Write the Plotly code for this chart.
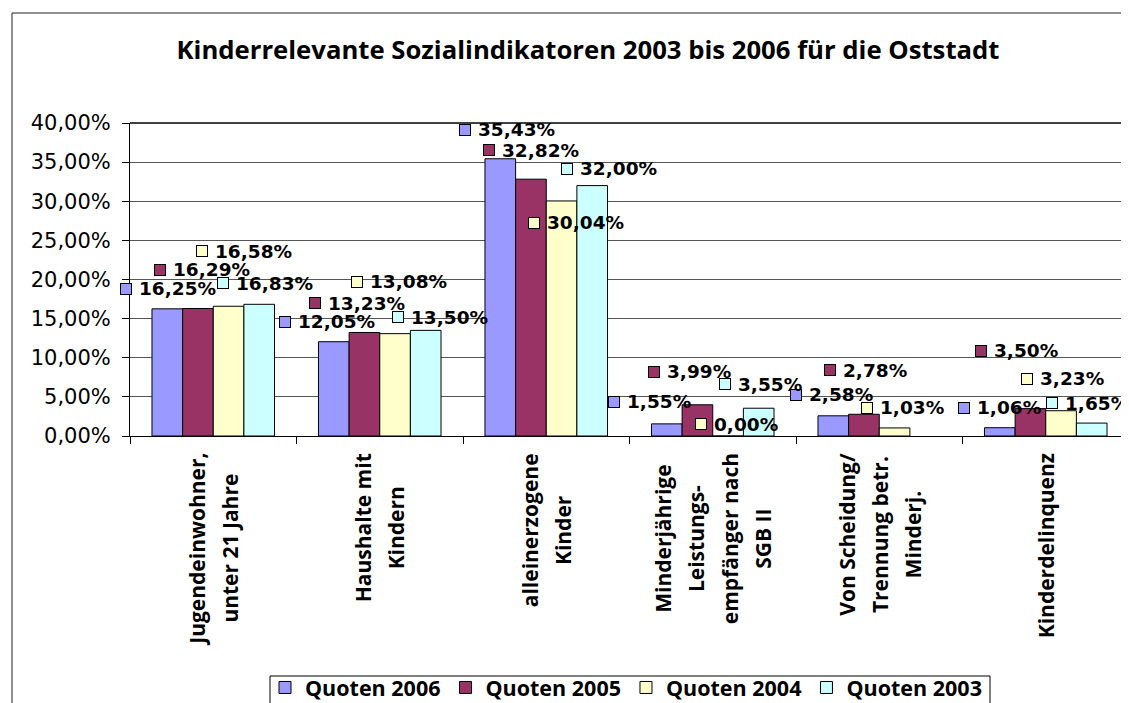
import plotly.graph_objects as go

# ---------------- data ----------------
categories = [
    "Jugendeinwohner,\nunter 21 Jahre",
    "Haushalte mit\nKindern",
    "alleinerzogene\nKinder",
    "Minderjährige\nLeistungs-\nempfänger nach\nSGB II",
    "Von Scheidung/\nTrennung betr.\nMinderj.",
    "Kinderdelinquenz",
]
series_names = ["Quoten 2006", "Quoten 2005", "Quoten 2004", "Quoten 2003"]
quoten_2006 = [16.25, 12.05, 35.43, 1.55, 2.58, 1.06]
quoten_2005 = [16.29, 13.23, 32.82, 3.99, 2.78, 3.50]
quoten_2004 = [16.58, 13.08, 30.04, 0.00, 1.03, 3.23]
quoten_2003 = [16.83, 13.50, 32.00, 3.55, None, 1.65]
series_values = [quoten_2006, quoten_2005, quoten_2004, quoten_2003]
y_ticks = [0, 5, 10, 15, 20, 25, 30, 35, 40]
y_tick_labels = ["0,00%", "5,00%", "10,00%", "15,00%", "20,00%", "25,00%", "30,00%", "35,00%", "40,00%"]
title_text = "Kinderrelevante Sozialindikatoren 2003 bis 2006 für die Oststadt"

# ---------------- styles ----------------
colors = ["#9999FF", "#993366", "#FFFFCC", "#CCFFFF"]
# pixel offsets of each data label (key square centre) relative to its bar top/centre
label_offsets = [
    [(-41, 20), (-49, 20), (-35, 29), (-53, 22), (-37, 21), (-36, 20)],
    [(-38, 39), (-49, 29), (-42, 29), (-43, 33), (-34, 44), (-49, 58)],
    [(-27, 55), (-38, 52), (-28, -22), (-27, 12), (-28, 20), (-34, 32)],
    [(-36, 21), (-28, 13), (-25, 17), (-34, 24), None, (-40, 20)],
]

PAGE = 8  # default body margin of the html page
W, H = 1129 - PAGE, 703 - PAGE
ML, MR, MT = 130 - PAGE, 0, 123 - PAGE
plot_w = W - ML - MR
plot_h = 313
MB = H - MT - plot_h
bargap = 0.264
cat_px = plot_w / len(categories)
bar_px = (1 - bargap) * cat_px / len(series_names)


def px_to_paper_x(px):
    return (px - PAGE - ML) / plot_w


def px_to_paper_y(py):
    return (MT + plot_h - (py - PAGE)) / plot_h


x_cats = [c.replace("\n", " ") for c in categories]

fig = go.Figure()
for name, vals, col in zip(series_names, series_values, colors):
    fig.add_trace(go.Bar(
        x=x_cats, y=vals, name=name,
        marker=dict(color=col, line=dict(color="black", width=1)),
        hoverinfo="skip",
    ))

annotations = []
label_font = dict(family="DejaVu Sans", size=18.5, color="black")
for si, (vals, col) in enumerate(zip(series_values, colors)):
    bar_off = (si - (len(series_names) - 1) / 2) * bar_px
    for ci, v in enumerate(vals):
        off = label_offsets[si][ci]
        if v is None or off is None:
            continue
        dx, dy = off
        txt = f"{v:.2f}".replace(".", ",") + "%"
        # legend key square
        annotations.append(dict(
            x=x_cats[ci], y=v, xref="x", yref="y", text=" ", showarrow=False,
            xanchor="center", yanchor="middle",
            xshift=bar_off + dx, yshift=dy,
            width=10, height=10, bgcolor=col, bordercolor="black",
            borderwidth=1, borderpad=0, font=dict(size=2),
        ))
        annotations.append(dict(
            x=x_cats[ci], y=v, xref="x", yref="y", text="<b>" + txt + "</b>",
            showarrow=False, xanchor="left", yanchor="middle",
            xshift=bar_off + dx + 12, yshift=dy, borderpad=0,
            font=label_font,
        ))

# category labels (rotated, centred lines)
for ci, cat in enumerate(categories):
    lines = cat.split("\n")
    txt = "<br>".join(f"<span style='font-size:21px'><b>{ln}</b></span>" for ln in lines)
    annotations.append(dict(
        x=x_cats[ci], y=px_to_paper_y(451), xref="x", yref="paper",
        text=txt, textangle=-90, showarrow=False, align="center",
        xanchor="center", yanchor="top",
        font=dict(family="Open Sans", size=25.5, color="black"),
    ))

shapes = [
    # outer chart border
    dict(type="rect", xref="paper", yref="paper",
         x0=px_to_paper_x(12), x1=px_to_paper_x(1160),
         y0=px_to_paper_y(740), y1=px_to_paper_y(13),
         line=dict(color="#222222", width=1), fillcolor="rgba(0,0,0,0)", layer="below"),
    # top border of plot area
    dict(type="line", xref="paper", yref="paper", x0=0, x1=1, y0=1, y1=1,
         line=dict(color="black", width=1.5)),
    # legend frame
    dict(type="rect", xref="paper", yref="paper",
         x0=px_to_paper_x(270), x1=px_to_paper_x(990),
         y0=px_to_paper_y(730), y1=px_to_paper_y(676),
         line=dict(color="black", width=1), fillcolor="rgba(0,0,0,0)", layer="below"),
]

fig.update_layout(
    width=W, height=H,
    margin=dict(l=ML, r=MR, t=MT, b=MB, autoexpand=False),
    paper_bgcolor="white", plot_bgcolor="white",
    barmode="group", bargap=bargap, bargroupgap=0,
    title=dict(text="<b>" + title_text + "</b>", x=px_to_paper_x(588), xref="paper",
               xanchor="center", y=1 - (50 - PAGE) / H, yref="container", yanchor="middle",
               font=dict(family="Open Sans", size=25.7, color="black")),
    showlegend=True,
    legend=dict(orientation="h", x=px_to_paper_x(265), xanchor="left",
                y=px_to_paper_y(667), yanchor="top",
                borderwidth=0, bgcolor="rgba(0,0,0,0)",
                font=dict(family="Open Sans", size=21.5, color="black", weight="bold"),
                traceorder="normal"),
    annotations=annotations,
    shapes=shapes,
)
fig.update_xaxes(
    type="category", showticklabels=False, showline=True, linecolor="black", linewidth=1,
    ticks="outside", ticklen=7, tickcolor="black", tickson="boundaries",
    showgrid=False, zeroline=False, range=[-0.5, len(categories) - 0.5],
)
fig.update_yaxes(
    range=[0, 40], tickvals=y_ticks, ticktext=y_tick_labels,
    showline=True, linecolor="black", linewidth=1,
    ticks="outside", ticklen=7, tickcolor="black", ticklabelstandoff=7,
    showgrid=True, gridcolor="#555555", gridwidth=1, zeroline=False,
    tickfont=dict(family="DejaVu Sans", size=21, color="black"),
)

fig.write_html("out.html")
